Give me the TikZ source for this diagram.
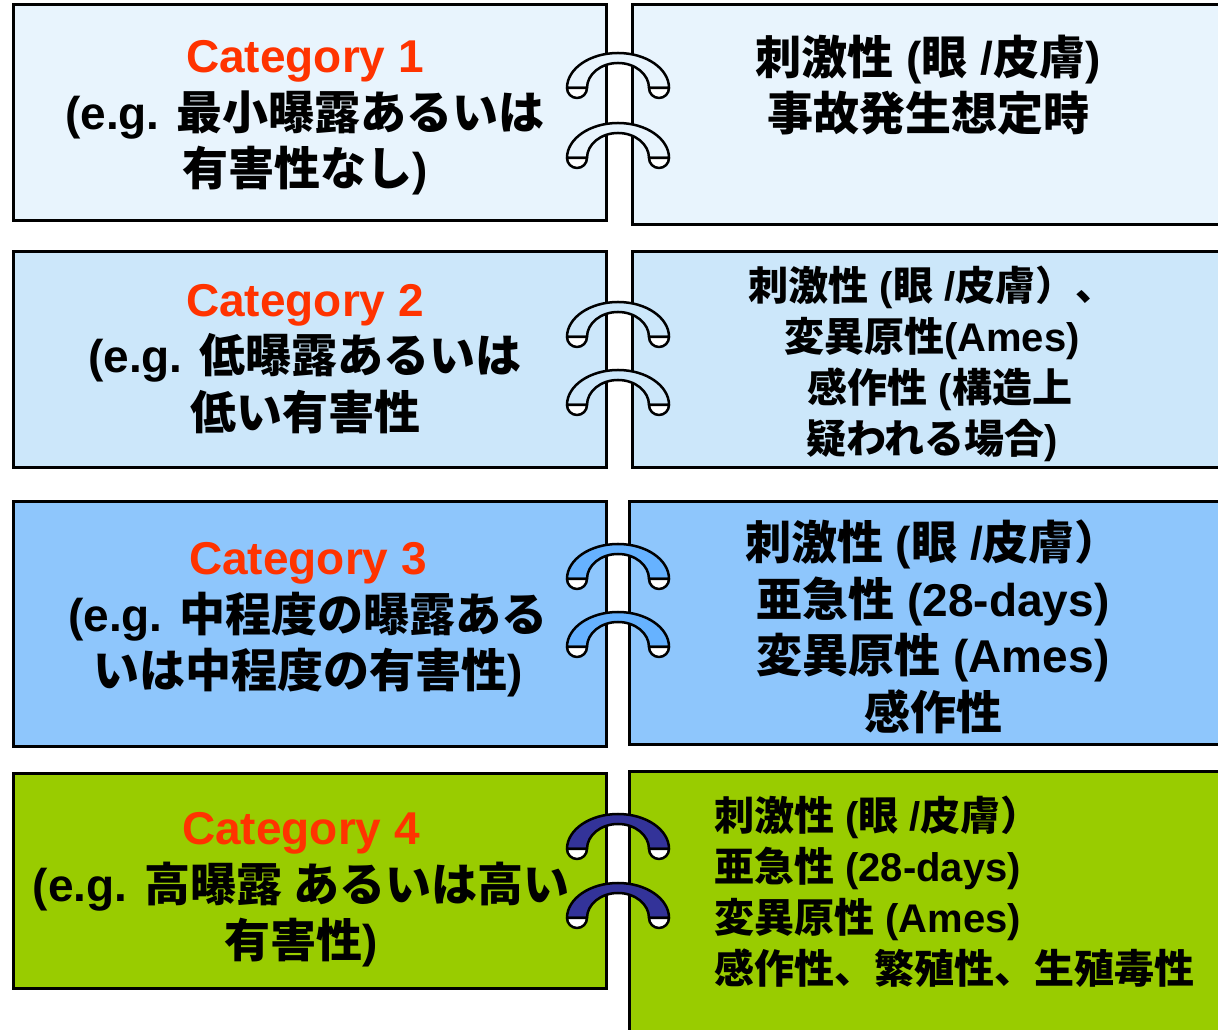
\documentclass[tikz,border=0pt]{standalone}
\usepackage{fontspec}
\setmainfont{Noto Sans CJK JP}
\newfontfamily\latin{Liberation Sans}
\newcommand\la[1]{{\latin #1}}
\definecolor{catred}{HTML}{FF3300}
\definecolor{levA}{HTML}{E8F4FD}
\definecolor{levB}{HTML}{CCE7FA}
\definecolor{levC}{HTML}{8EC6FC}
\definecolor{levD}{HTML}{99CC00}
\definecolor{ringC}{HTML}{66B2FF}
\definecolor{ringD}{HTML}{333399}
\tikzset{
  box/.style={draw=black,line width=2.5pt,anchor=south west,inner sep=0pt},
  big/.style={align=center,inner sep=0pt,font=\bfseries\fontsize{46}{56.5}\selectfont},
  small/.style={inner sep=0pt,font=\bfseries\fontsize{40}{51}\selectfont},
  ring/.style={draw=black,line width=2.5pt,line join=round}
}
\begin{document}
\begin{tikzpicture}[x=1pt,y=1pt]
\useasboundingbox (0,0) rectangle (1218,1030);
\node[box,fill=levA,minimum width=593pt,minimum height=216pt] (catA) at (12,808) {};
\node[box,fill=levB,minimum width=593pt,minimum height=216pt] (catB) at (12,561) {};
\node[box,fill=levC,minimum width=593pt,minimum height=245pt] (catC) at (12,282) {};
\node[box,fill=levD,minimum width=593pt,minimum height=215pt] (catD) at (12,40) {};
\node[box,fill=levA,minimum width=600pt,minimum height=220pt] (hazA) at (631,804) {};
\node[box,fill=levB,minimum width=600pt,minimum height=216pt] (hazB) at (631,561) {};
\node[box,fill=levC,minimum width=600pt,minimum height=243pt] (hazC) at (628,284) {};
\node[box,fill=levD,minimum width=600pt,minimum height=270pt] (hazD) at (628,-13) {};
\node[big] (catAtxt) at (305,912) {{\color{catred}\la{Category 1}}\\\la{(e.g. }最小曝露あるいは\\有害性なし\la{)}};
\node[big] (catBtxt) at (305,671) {{\color{catred}\la{Category 2}}\\\la{(e.g. }低曝露あるいは\\低い有害性};
\node[big] (catCtxt) at (308,410) {{\color{catred}\la{Category 3}}\\\la{(e.g. }中程度の曝露ある\\いは中程度の有害性\la{)}};
\node[big] (catDtxt) at (301,140) {{\color{catred}\la{Category 4}}\\\la{(e.g. }高曝露 あるいは高い\\有害性\la{)}};
\node[big] (hazAtxt) at (928,945) {刺激性\la{ (}眼\la{ /}皮膚\la{)}\\事故発生想定時};
\node[small,align=center] (hazBtxt) at (932,666) {刺激性\la{ (}眼\la{ /}皮膚）、\\変異原性\la{(Ames)}\\\hspace*{16pt}感作性\la{ (}構造上\\疑われる場合\la{)}};
\node[big] (hazCtxt) at (933,403) {刺激性\la{ (}眼\la{ /}皮膚）\\亜急性\la{ (28-days)}\\変異原性\la{ (Ames)}\\感作性};
\node[small,align=left,anchor=west] (hazDtxt) at (714,138) {刺激性\la{ (}眼\la{ /}皮膚）\\亜急性\la{ (28-days)}\\変異原性\la{ (Ames)}\\感作性、繁殖性、生殖毒性};
\foreach \yy/\c in {942/levA,872/levA,693/levB,625/levB,451/ringC,383/ringC,181/ringD,112/ringD}{
  \draw[ring,fill=\c] (567,\yy) arc[start angle=180,end angle=0,x radius=51pt,y radius=35pt] -- (649,\yy) arc[start angle=0,end angle=180,x radius=31pt,y radius=25pt] -- cycle;
  \foreach \xx in {577,659}
    \draw[ring,fill=white] (\xx-10,\yy) arc[start angle=180,end angle=360,radius=10pt] -- cycle;
}
\end{tikzpicture}
\end{document}
